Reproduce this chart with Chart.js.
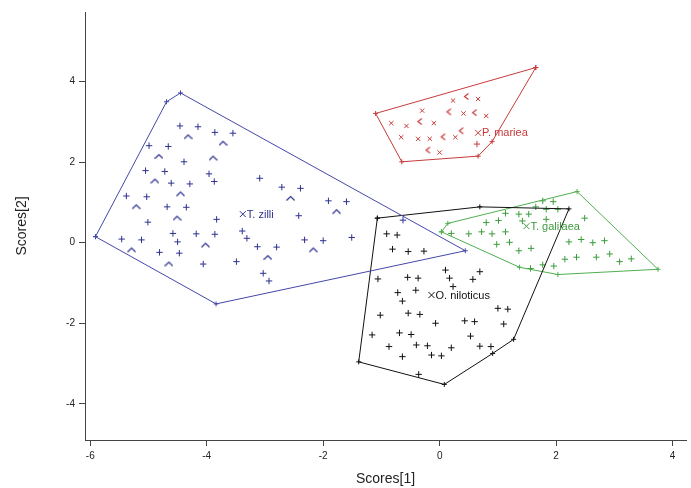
<!DOCTYPE html>
<html><head><meta charset="utf-8">
<script src="https://cdn.jsdelivr.net/npm/chart.js@4.4.1/dist/chart.umd.min.js"></script>
<style>html,body{margin:0;padding:0;background:#fff;}canvas{display:block;}</style>
</head><body>
<canvas id="c" width="691" height="488"></canvas>
<script>
// ---- tick labels ----
const xTicks = [-6, -4, -2, 0, 2, 4];
const yTicks = [-4, -2, 0, 2, 4];

// ---- group names and centroids (label anchors) ----
const groupNames = ['T. zilli', 'O. niloticus', 'T. galilaea', 'P. mariea'];
const groupCentroids = [[-3.38, 0.71], [-0.14, -1.30], [1.49, 0.41], [0.66, 2.73]];

// ---- T. zilli ----
const zilliHull = [[-5.91,0.15],[-4.69,3.50],[-4.45,3.72],[0.44,-0.20],[-3.84,-1.52]];
const zilliPlus = [[-4.46,2.90],[-4.15,2.88],[-3.86,2.74],[-3.55,2.72],[-4.99,2.41],[-4.66,2.39],
 [-4.39,2.01],[-5.05,1.79],[-4.72,1.77],[-3.96,1.71],[-3.09,1.60],[-4.61,1.48],[-4.29,1.46],
 [-3.87,1.52],[-5.38,1.16],[-5.03,1.14],[-4.68,0.89],[-4.35,0.88],[-5.01,0.51],[-3.83,0.58],
 [-5.46,0.09],[-5.12,0.07],[-4.58,0.23],[-4.18,0.22],[-3.86,0.21],[-3.39,0.29],[-4.50,0.02],
 [-4.81,-0.24],[-4.47,-0.26],[-4.06,-0.53],[-3.49,-0.47],[-3.31,0.11],[-3.13,-0.10],[-2.80,-0.11],
 [-3.03,-0.76],[-2.93,-0.95],[-2.71,1.38],[-2.39,1.35],[-1.91,1.04],[-1.60,1.02],[-2.42,0.67],
 [-2.32,0.07],[-2.00,0.05],[-1.51,0.13],[-0.63,0.56]];
const zilliCaret = [[-4.32,2.63],[-3.72,2.47],[-4.82,2.14],[-3.89,2.10],[-4.89,1.53],[-4.45,1.21],
 [-5.21,0.89],[-4.51,0.61],[-4.02,-0.06],[-5.29,-0.18],[-4.65,-0.53],[-2.95,-0.37],[-2.56,1.10],
 [-1.77,0.77],[-2.17,-0.18]];

// ---- O. niloticus ----
const niloticusHull = [[-1.07,0.61],[0.69,0.89],[2.22,0.84],[1.27,-2.40],[0.91,-2.75],[0.08,-3.52],[-1.39,-2.96]];
const niloticusPts = [[-0.91,0.22],[-0.73,0.19],[-0.81,-0.16],[-0.54,-0.22],[-0.27,-0.21],[0.10,-0.68],
 [0.69,-0.72],[0.17,-0.88],[0.57,-0.91],[-1.06,-0.90],[-0.55,-0.86],[-0.37,-0.88],[0.23,-1.09],
 [-0.72,-1.24],[-0.41,-1.18],[-0.64,-1.45],[1.00,-1.63],[1.17,-1.65],[-1.02,-1.80],[-0.54,-1.75],
 [-0.34,-1.78],[-0.07,-2.00],[0.43,-1.94],[0.60,-1.96],[1.10,-2.02],[-1.16,-2.29],[-0.69,-2.24],
 [-0.49,-2.28],[0.53,-2.32],[-0.87,-2.58],[-0.40,-2.54],[-0.21,-2.56],[0.20,-2.61],[0.69,-2.57],
 [0.88,-2.58],[-0.64,-2.83],[-0.14,-2.79],[0.03,-2.81],[-0.36,-3.27]];

// ---- T. galilaea ----
const galilaeaHull = [[0.03,0.27],[0.14,0.48],[2.36,1.27],[3.75,-0.66],[2.03,-0.79],[1.37,-0.61]];
const galilaeaPts = [[0.20,0.23],[0.50,0.22],[0.72,0.27],[0.90,0.22],[1.13,0.27],[0.80,0.50],[1.01,0.55],
 [1.13,0.73],[1.36,0.71],[1.53,0.71],[1.42,0.54],[1.65,0.89],[1.77,1.04],[1.95,1.02],[1.83,0.83],
 [2.03,0.83],[1.83,0.58],[2.49,0.61],[0.98,-0.04],[1.20,0.01],[1.36,-0.20],[1.57,-0.14],[2.22,0.02],
 [2.43,0.08],[2.63,0.00],[2.83,0.05],[2.15,-0.41],[2.35,-0.36],[2.69,-0.36],[2.92,-0.28],[3.09,-0.47],
 [3.29,-0.40],[1.56,-0.64],[1.77,-0.55],[1.96,-0.58]];

// ---- P. mariea ----
const marieaHull = [[1.65,4.35],[-1.10,3.21],[-0.65,2.01],[0.66,2.15],[0.90,2.51]];
const marieaX = [[0.23,3.53],[0.66,3.57],[-0.30,3.28],[0.41,3.21],[0.80,3.15],[-0.83,2.97],[-0.57,2.90],
 [-0.10,2.97],[-0.66,2.62],[-0.37,2.58],[-0.17,2.58],[0.27,2.62],[0.00,2.24]];
const marieaLt = [[0.46,3.63],[0.16,3.25],[0.60,3.23],[-0.34,3.01],[0.06,2.63],[0.37,2.78],[-0.20,2.30]];
const marieaPlus = [[0.64,2.45]];

// ---- styles ----
const BLUE = '#2e3190', BLUE_L = '#4448a8', BLACK = '#111111', GREEN = '#3c9c3c', GREEN_L = '#4fae4f', RED = '#c83a3a';
const groupColors = [BLUE, BLACK, GREEN, RED];

function markerCanvas(color, kind) {
  const c = document.createElement('canvas'); c.width = 9; c.height = 9;
  const g = c.getContext('2d'); g.strokeStyle = color; g.lineWidth = 1.2; g.beginPath();
  if (kind === 'caret') { g.moveTo(0.5, 6.5); g.lineTo(4.5, 2.5); g.lineTo(8.5, 6.5); }
  else { g.moveTo(6.5, 1.5); g.lineTo(2.5, 4.5); g.lineTo(6.5, 7.5); }
  g.stroke(); return c;
}
const toXY = arr => arr.map(p => ({x: p[0], y: p[1]}));
const closed = arr => toXY(arr.concat([arr[0]]));

function hullDs(arr, color) {
  return {data: closed(arr), showLine: true, borderColor: color, borderWidth: 1, backgroundColor: color,
    pointStyle: 'cross', pointRadius: 2.5, pointBorderWidth: 1, pointBorderColor: color, tension: 0, fill: false};
}
function ptsDs(arr, color, style, r) {
  return {data: toXY(arr), showLine: false, pointStyle: style, pointRadius: r || 3.2,
    pointBorderColor: color, pointBackgroundColor: color, pointBorderWidth: 1};
}

const labelPlugin = {
  id: 'groupLabels',
  afterDatasetsDraw(chart) {
    const {ctx, scales: {x, y}} = chart;
    ctx.save();
    ctx.font = '11px "Liberation Sans", Arial, sans-serif';
    ctx.textBaseline = 'middle';
    groupNames.forEach((name, i) => {
      const px = x.getPixelForValue(groupCentroids[i][0]);
      const py = y.getPixelForValue(groupCentroids[i][1]);
      const col = groupColors[i];
      ctx.strokeStyle = col; ctx.lineWidth = 1;
      ctx.beginPath(); ctx.moveTo(px - 3, py - 3); ctx.lineTo(px + 3, py + 3);
      ctx.moveTo(px + 3, py - 3); ctx.lineTo(px - 3, py + 3); ctx.stroke();
      ctx.fillStyle = col; ctx.textAlign = 'left';
      ctx.fillText(name, px + 4, py + 0.5);
    });
    ctx.restore();
  }
};

const axisCommon = {
  type: 'linear',
  grid: {display: true, drawOnChartArea: false, drawTicks: true, tickLength: 6, color: '#444', lineWidth: 1},
  border: {display: true, color: '#444', width: 1},
  ticks: {color: '#222', font: {family: '"Liberation Sans", Arial, sans-serif', size: 10}, padding: 4}
};

new Chart(document.getElementById('c'), {
  type: 'scatter',
  data: {datasets: [
    hullDs(zilliHull, BLUE_L), ptsDs(zilliPlus, BLUE, 'cross'), ptsDs(zilliCaret, BLUE, markerCanvas(BLUE, 'caret')),
    hullDs(niloticusHull, BLACK), ptsDs(niloticusPts, BLACK, 'cross'),
    hullDs(galilaeaHull, GREEN_L), ptsDs(galilaeaPts, GREEN, 'cross'),
    hullDs(marieaHull, RED), ptsDs(marieaX, RED, 'crossRot', 3.0), ptsDs(marieaLt, RED, markerCanvas(RED, 'lt')),
    ptsDs(marieaPlus, RED, 'cross')
  ]},
  options: {
    responsive: false, animation: false, devicePixelRatio: 1,
    layout: {padding: {top: 12, left: 0, right: 0, bottom: 0}},
    plugins: {legend: {display: false}, tooltip: {enabled: false}},
    scales: {
      x: Object.assign({}, axisCommon, {
        min: -6.09, max: 4.23,
        afterBuildTicks: s => { s.ticks = xTicks.map(v => ({value: v})); },
        afterFit: s => { s.height = 48; },
        title: {display: true, text: 'Scores[1]', color: '#222', font: {family: '"Liberation Sans", Arial, sans-serif', size: 14}, padding: {top: 0, bottom: 0}}
      }),
      y: Object.assign({}, axisCommon, {
        min: -4.9, max: 5.73,
        afterBuildTicks: s => { s.ticks = yTicks.map(v => ({value: v})); },
        afterFit: s => { s.width = 85; },
        title: {display: true, text: 'Scores[2]', color: '#222', font: {family: '"Liberation Sans", Arial, sans-serif', size: 14}, padding: {top: 14, bottom: 0}}
      })
    }
  },
  plugins: [labelPlugin]
});
</script>
</body></html>
